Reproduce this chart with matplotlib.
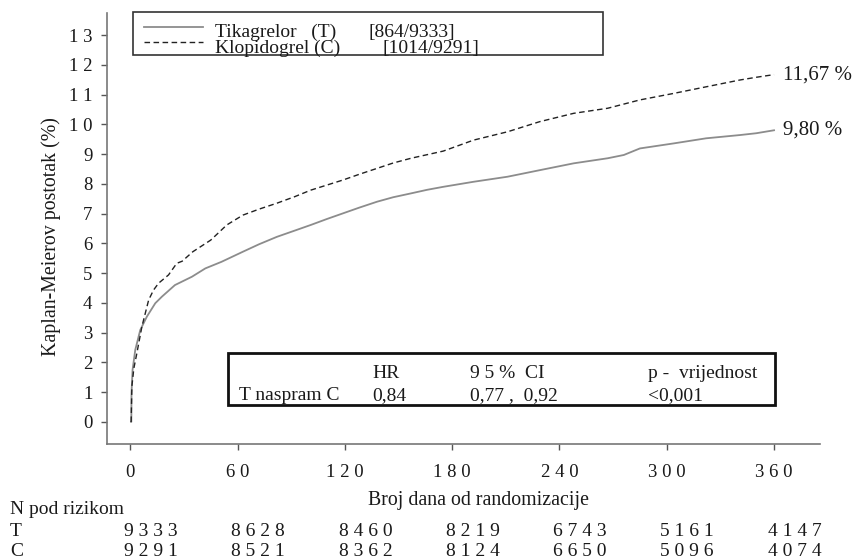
import matplotlib

matplotlib.use("Agg")
import matplotlib.pyplot as plt
from matplotlib.lines import Line2D
from matplotlib.patches import Rectangle
from matplotlib.transforms import blended_transform_factory

W, H = 856, 559

# Kaplan-Meier curves (days, cumulative %)
t_days = [0.5, 0.6, 0.7, 1.3, 2.8, 5.6, 9.3, 14, 17.7, 25, 34.5, 42, 51, 63, 72, 82, 92, 101,
          110, 119, 128, 138, 147, 157, 166, 175, 192, 211, 229, 248, 267, 276, 285, 304, 322,
          341, 350, 360]
t_pct = [0, 0, 0.97, 1.75, 2.42, 3.09, 3.54, 3.99, 4.21, 4.6, 4.88, 5.16, 5.38, 5.72, 5.97,
         6.22, 6.43, 6.62, 6.82, 7.01, 7.2, 7.4, 7.55, 7.68, 7.8, 7.9, 8.07, 8.24, 8.46, 8.69,
         8.86, 8.97, 9.19, 9.36, 9.53, 9.64, 9.70, 9.80]
c_days = [0.5, 0.6, 0.9, 2, 3.7, 6.5, 10.3, 13, 15.8, 21.4, 26, 29, 35, 45, 54, 63, 72, 82, 92,
          101, 110, 119, 128, 138, 147, 157, 166, 175, 192, 211, 229, 248, 267, 285, 304, 322,
          341, 350, 360]
c_pct = [0, 0.3, 1.19, 1.8, 2.31, 3.2, 4.1, 4.43, 4.66, 4.94, 5.33, 5.4, 5.72, 6.11, 6.62,
         6.95, 7.15, 7.35, 7.57, 7.79, 7.96, 8.13, 8.32, 8.52, 8.7, 8.86, 8.98, 9.1, 9.47, 9.75,
         10.09, 10.37, 10.54, 10.82, 11.04, 11.26, 11.49, 11.58, 11.67]

x_ticks = [0, 60, 120, 180, 240, 300, 360]
y_ticks = list(range(14))

risk_t = [9333, 8628, 8460, 8219, 6743, 5161, 4147]
risk_c = [9291, 8521, 8362, 8124, 6650, 5096, 4074]

legend_labels = ["Tikagrelor   (T)", "Klopidogrel (C)"]
legend_counts = ["[864/9333]", "[1014/9291]"]
final_labels = ["9,80 %", "11,67 %"]

stats_header = ["HR", "9 5 %  CI", "p -  vrijednost"]
stats_row = ["T naspram C", "0,84", "0,77 ,  0,92", "<0,001"]

TXT = "#1a1a1a"


def fx(px):
    return px / W


def fy(py):
    return 1 - py / H


def spaced(n):
    return " ".join(str(n))


plt.rcParams["font.family"] = ["Liberation Serif", "DejaVu Serif"]

fig = plt.figure(figsize=(W / 100, H / 100), dpi=100)
ax = fig.add_axes([fx(107), fy(444), fx(820) - fx(107), fy(13) - fy(444)])

ax.plot(t_days, t_pct, color="#8c8c8c", lw=1.3)
ax.plot(c_days, c_pct, color="#222222", lw=1.0, dashes=(4, 2.5))

ax.set_xlim(-13, 385.7)
ax.set_ylim(-0.74, 13.74)
for side in ("top", "right"):
    ax.spines[side].set_visible(False)
for side in ("left", "bottom"):
    ax.spines[side].set_color("#777777")
    ax.spines[side].set_linewidth(1.2)

ax.set_xticks(x_ticks)
ax.set_xticklabels([spaced(v) for v in x_ticks])
ax.set_yticks(y_ticks)
ax.set_yticklabels([spaced(v) for v in y_ticks])
ax.tick_params(direction="out", length=4.5, width=1, color="#555555",
               labelsize=13.5, labelcolor=TXT)
ax.tick_params(axis="x", pad=10)
ax.tick_params(axis="y", pad=6)

# end-of-curve values
ax.text(365, t_pct[-1], final_labels[0], fontsize=15, color=TXT, va="center", ha="left")
ax.text(365, c_pct[-1], final_labels[1], fontsize=15, color=TXT, va="center", ha="left")

# legend box drawn by hand to match the layout
fig.add_artist(Rectangle((fx(133), fy(55)), fx(603) - fx(133), fy(12) - fy(55),
                         transform=fig.transFigure, fill=False, ec="#333333", lw=1.2))
fig.add_artist(Line2D([fx(144), fx(203)], [fy(26.5)] * 2, transform=fig.transFigure,
                      color="#8c8c8c", lw=1.3))
fig.add_artist(Line2D([fx(144), fx(203)], [fy(41.5)] * 2, transform=fig.transFigure,
                      color="#222222", lw=1.0, dashes=(4, 2.5)))
fig.text(fx(215), fy(36.5), legend_labels[0], fontsize=14, color=TXT, va="baseline")
fig.text(fx(215), fy(52.5), legend_labels[1], fontsize=14, color=TXT, va="baseline")
fig.text(fx(368), fy(36.5), legend_counts[0], fontsize=14, color=TXT, va="baseline")
fig.text(fx(383), fy(52.5), legend_counts[1], fontsize=14, color=TXT, va="baseline")

# hazard ratio box
fig.add_artist(Rectangle((fx(228), fy(405)), fx(775) - fx(228), fy(353) - fy(405),
                         transform=fig.transFigure, fill=False, ec="#111111", lw=2.0))
for x, s in zip([372, 470, 648], stats_header):
    fig.text(fx(x), fy(378.5), s, fontsize=14, color=TXT, va="baseline")
for x, s in zip([239, 372, 470, 648], stats_row):
    fig.text(fx(x), fy(400), s, fontsize=14, color=TXT, va="baseline")

# axis labels
fig.text(fx(478), fy(505), "Broj dana od randomizacije", fontsize=14.3, color=TXT,
         ha="center", va="baseline")
fig.text(fx(51), fy(237), "Kaplan-Meierov postotak (%)", fontsize=14.3, color=TXT,
         ha="center", va="center", rotation=90)

# numbers at risk
fig.text(fx(10), fy(514), "N pod rizikom", fontsize=14, color=TXT, va="baseline")
fig.text(fx(10), fy(536.5), "T", fontsize=14, color=TXT, va="baseline")
fig.text(fx(10), fy(555.5), "C", fontsize=14, color=TXT, va="baseline")
trans = blended_transform_factory(ax.transData, fig.transFigure)
for day, nt, nc in zip(x_ticks, risk_t, risk_c):
    ax.text(day - 3.5, fy(536.5), spaced(nt), transform=trans, fontsize=14, color=TXT,
            ha="left", va="baseline", clip_on=False)
    ax.text(day - 3.5, fy(555.5), spaced(nc), transform=trans, fontsize=14, color=TXT,
            ha="left", va="baseline", clip_on=False)

fig.savefig("out.png", dpi=100)
plt.close(fig)
